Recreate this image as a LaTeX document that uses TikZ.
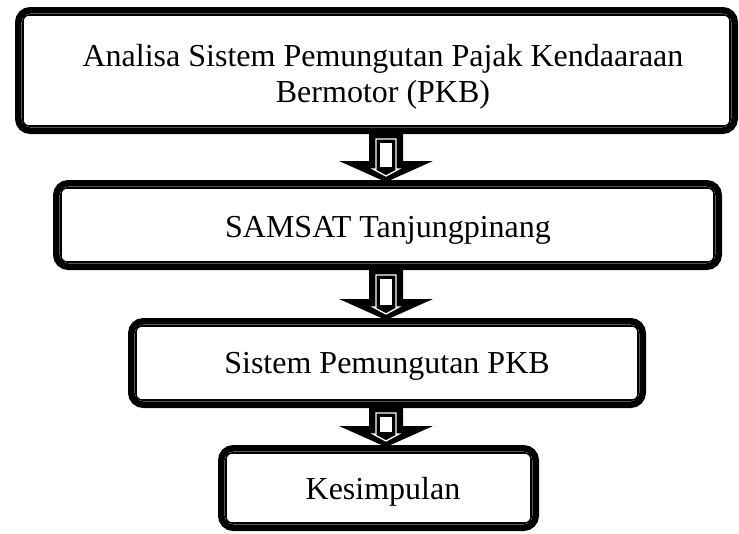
\documentclass[tikz,border=0pt]{standalone}
\usepackage{fontspec}
\setmainfont{Liberation Serif}
\begin{document}
\begin{tikzpicture}[x=1pt,y=-1pt,
  box/.style={draw=black, line width=6.6pt, rounded corners=12pt, fill=white, inner sep=0pt},
  inner/.style={draw=black, line width=1.6pt, rounded corners=6pt},
  lbl/.style={font=\fontsize{32}{36}\selectfont, align=center, inner sep=0pt, anchor=base},
]
\useasboundingbox (0,0) rectangle (739,533);
% boxes (outer edges measured; line centre inset by 3.3)
\node[box, minimum width=716.4pt, minimum height=120.4pt] (b1) at (376.5,70.5) {};
\node[box, minimum width=662.4pt, minimum height=83.4pt] (b2) at (387.5,225) {};
\node[box, minimum width=511.4pt, minimum height=83.4pt] (b3) at (387,363) {};
\node[box, minimum width=314.4pt, minimum height=79.4pt] (b4) at (378.5,488) {};
\foreach \b in {b1,b2,b3,b4}{
  \draw[inner] ([shift={(8,8)}]\b.north west) rectangle ([shift={(-8,-8)}]\b.south east);
}
% texts
\node[lbl] (t1) at (383,102) {Analisa Sistem Pemungutan Pajak Kendaaraan\\Bermotor (PKB)};
\node[lbl] (t2) at (388,237) {SAMSAT Tanjungpinang};
\node[lbl] (t3) at (387,373) {Sistem Pemungutan PKB};
\node[lbl] (t4) at (383,499) {Kesimpulan};
% block arrows
\coordinate (ax) at (386,0);
\foreach \a/\b in {b1/b2,b2/b3,b3/b4}{
  \path (\a.south -| ax) coordinate (top) (\b.north -| ax) coordinate (tip);
  \path ([yshift=-2pt]tip) coordinate (tip);
  \path ([yshift=21pt]tip) coordinate (base);
  \fill[black] ([xshift=-17pt]top) -- ([xshift=-17pt]top |- base) -- ([xshift=-47pt]base)
     -- (tip) -- ([xshift=47pt]base) -- ([xshift=17pt]top |- base) -- ([xshift=17pt]top) -- cycle;
  \draw[white, line width=1.3pt] ([shift={(-10,5)}]top) -- ([shift={(-10,8)}]base) -- ([shift={(-13,8)}]base)
     -- ([shift={(0,15)}]base) -- ([shift={(13,8)}]base) -- ([shift={(10,8)}]base) -- ([shift={(10,5)}]top) -- cycle;
  \draw[black, fill=white, line width=1.2pt] ([shift={(-6.5,8)}]top) rectangle ([shift={(6.5,7)}]base);
  \fill[black] ([shift={(-5,9.5)}]base) -- ([shift={(0,13)}]base) -- ([shift={(5,9.5)}]base) -- cycle;
}
\end{tikzpicture}
\end{document}
